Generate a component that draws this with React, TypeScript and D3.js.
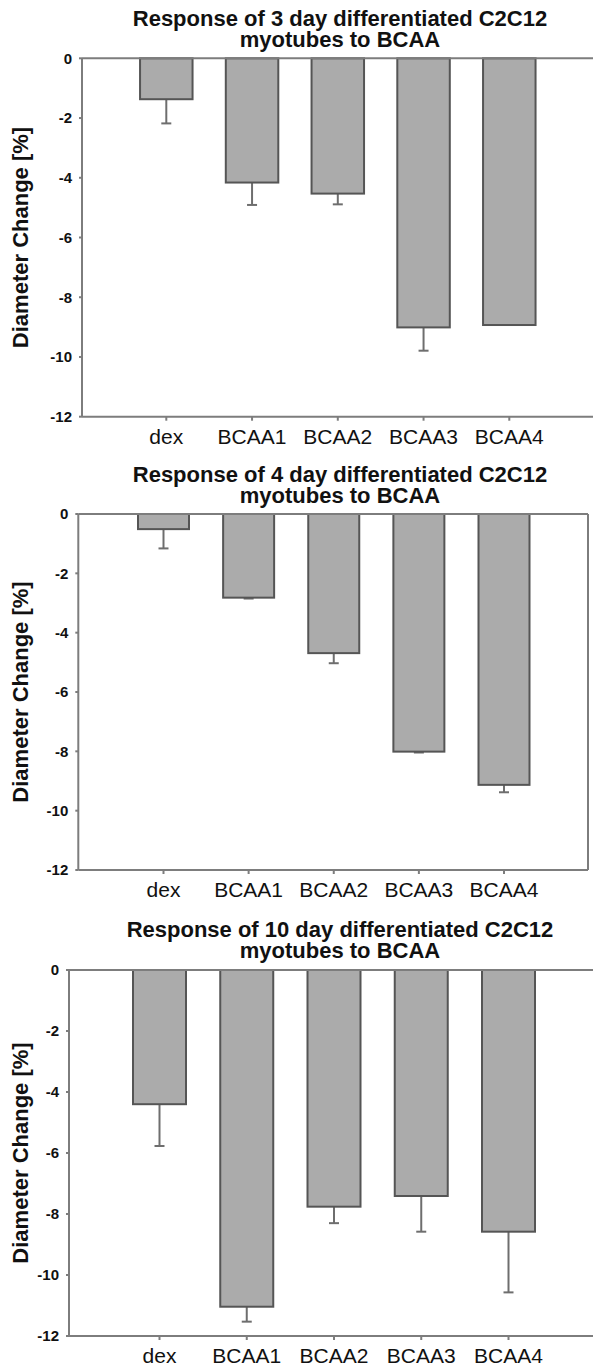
import React from "react";
import * as d3 from "d3";

const categories = ["dex", "BCAA1", "BCAA2", "BCAA3", "BCAA4"];
const titles = [
  ["Response of 3 day differentiated C2C12", "myotubes to BCAA"],
  ["Response of 4 day differentiated C2C12", "myotubes to BCAA"],
  ["Response of 10 day differentiated C2C12", "myotubes to BCAA"],
];
const day3Means = [-1.37, -4.16, -4.53, -9.01, -8.93];
const day3Errors = [0.81, 0.75, 0.36, 0.78, 0.0];
const day4Means = [-0.51, -2.82, -4.69, -8.01, -9.13];
const day4Errors = [0.65, 0.03, 0.34, 0.03, 0.25];
const day10Means = [-4.4, -11.04, -7.76, -7.41, -8.58];
const day10Errors = [1.37, 0.49, 0.54, 1.17, 1.99];
const yTicks = [0, -2, -4, -6, -8, -10, -12];
const yTitle = "Diameter Change [%]";

const seriesMeans = [day3Means, day4Means, day10Means];
const seriesErrors = [day3Errors, day4Errors, day10Errors];

// layout per panel
const layouts = [
  { top: 58.3, bottom: 416.7, left: 82, right: 600, c0: 166.3, c4: 509.3, bw: 52.5, title1: 26, frameRight: false },
  { top: 514, bottom: 870, left: 78.3, right: 588, c0: 163.5, c4: 504, bw: 51, title1: 482, frameRight: true },
  { top: 970, bottom: 1336, left: 69, right: 600, c0: 159.5, c4: 508.5, bw: 53, title1: 937, frameRight: false },
];

const FONT = "'Liberation Sans', Arial, sans-serif";
const AXIS = "#7d7d7d";
const BAR_FILL = "#ababab";
const BAR_STROKE = "#555";
const ERR = "#6e6e6e";

function Panel({ idx }: { idx: number }) {
  const L = layouts[idx];
  const means = seriesMeans[idx];
  const errs = seriesErrors[idx];
  const y = d3.scaleLinear().domain([0, -12]).range([L.top, L.bottom]);
  const x = d3.scaleLinear().domain([0, categories.length - 1]).range([L.c0, L.c4]);
  const titleX = 340;
  const midY = (L.top + L.bottom) / 2;
  return (
    <g>
      <text x={titleX} y={L.title1} textAnchor="middle" fontFamily={FONT} fontWeight="bold" fontSize={22} fill="#111">
        {titles[idx][0]}
      </text>
      <text x={titleX} y={L.title1 + 21} textAnchor="middle" fontFamily={FONT} fontWeight="bold" fontSize={22} fill="#111">
        {titles[idx][1]}
      </text>
      <text
        transform={`translate(28,${midY}) rotate(-90)`}
        textAnchor="middle"
        fontFamily={FONT}
        fontWeight="bold"
        fontSize={22}
        fill="#111"
      >
        {yTitle}
      </text>
      {/* error bars (drawn beneath bars) */}
      {means.map((m, i) =>
        errs[i] > 0 ? (
          <g key={"e" + i}>
            <line x1={x(i)} x2={x(i)} y1={y(m)} y2={y(m - errs[i])} stroke={ERR} strokeWidth={2} />
            <line x1={x(i) - 5} x2={x(i) + 5} y1={y(m - errs[i])} y2={y(m - errs[i])} stroke={ERR} strokeWidth={2} />
          </g>
        ) : null
      )}
      {/* bars */}
      {means.map((m, i) => (
        <rect
          key={"b" + i}
          x={x(i) - L.bw / 2}
          y={y(0)}
          width={L.bw}
          height={y(m) - y(0)}
          fill={BAR_FILL}
          stroke={BAR_STROKE}
          strokeWidth={2}
        />
      ))}
      {/* frame */}
      <line x1={L.left} x2={L.right} y1={L.top} y2={L.top} stroke={AXIS} strokeWidth={2} />
      <line x1={L.left} x2={L.left} y1={L.top} y2={L.bottom} stroke={AXIS} strokeWidth={2} />
      <line x1={L.left} x2={L.right} y1={L.bottom} y2={L.bottom} stroke={AXIS} strokeWidth={2} />
      {L.frameRight && <line x1={L.right} x2={L.right} y1={L.top} y2={L.bottom} stroke={AXIS} strokeWidth={2} />}
      {/* y ticks */}
      {yTicks.map((t) => (
        <g key={"yt" + t}>
          <line x1={L.left - 3} x2={L.left} y1={y(t)} y2={y(t)} stroke={AXIS} strokeWidth={2} />
          <text
            x={L.left - 10}
            y={y(t)}
            dy="0.36em"
            textAnchor="end"
            fontFamily={FONT}
            fontWeight="bold"
            fontSize={15}
            fill="#111"
          >
            {t === 0 ? "0" : "-" + Math.abs(t)}
          </text>
        </g>
      ))}
      {/* x ticks */}
      {categories.map((c, i) => (
        <g key={"xt" + c}>
          <line x1={x(i)} x2={x(i)} y1={L.bottom} y2={L.bottom + 4} stroke={AXIS} strokeWidth={2} />
          <text x={x(i)} y={L.bottom + 27} textAnchor="middle" fontFamily={FONT} fontSize={21} fill="#111">
            {c}
          </text>
        </g>
      ))}
    </g>
  );
}

export default function App() {
  return (
    <svg
      width={593}
      height={1367}
      style={{ position: "absolute", left: 0, top: 0, background: "#fff" }}
    >
      <rect x={0} y={0} width={593} height={1367} fill="#fff" />
      <Panel idx={0} />
      <Panel idx={1} />
      <Panel idx={2} />
    </svg>
  );
}
